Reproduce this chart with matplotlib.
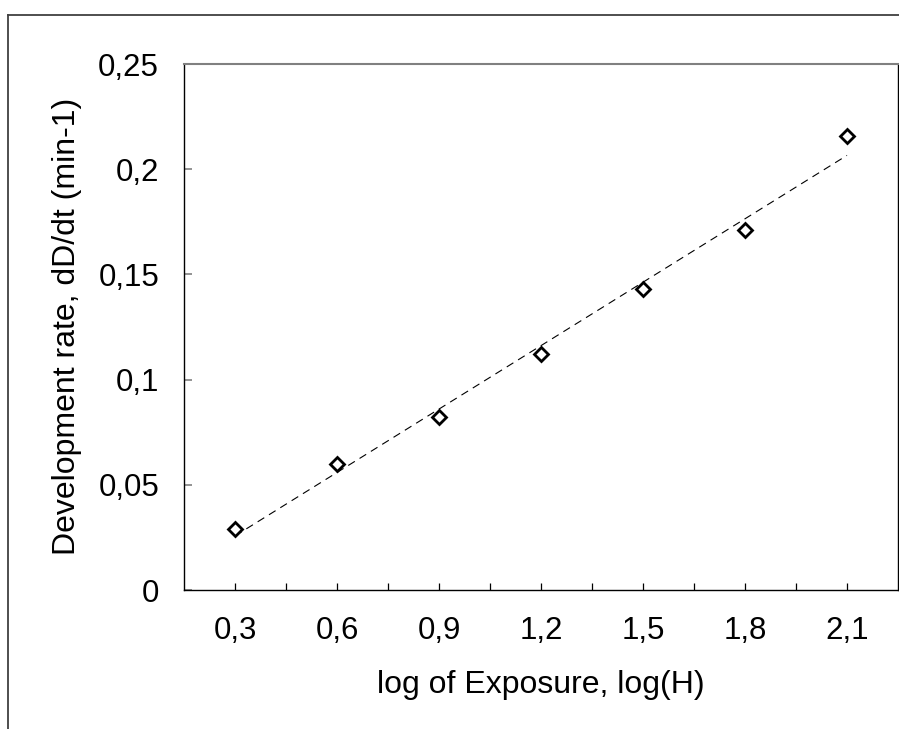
import matplotlib
matplotlib.use("Agg")
import matplotlib.pyplot as plt
import numpy as np
from matplotlib.lines import Line2D
from matplotlib.ticker import FixedLocator, FuncFormatter

plt.rcParams['font.family'] = ['Liberation Sans', 'DejaVu Sans']

# Data
log_exposure = [0.3, 0.6, 0.9, 1.2, 1.5, 1.8, 2.1]
dev_rate = [0.029, 0.060, 0.082, 0.112, 0.143, 0.171, 0.216]
x_major = [0.3, 0.6, 0.9, 1.2, 1.5, 1.8, 2.1]
x_minor = [0.45, 0.75, 1.05, 1.35, 1.65, 1.95]
y_ticks = [0, 0.05, 0.1, 0.15, 0.2, 0.25]

W, H = 899, 729
fig = plt.figure(figsize=(W / 100, H / 100), dpi=100)
fig.patch.set_facecolor('white')

# outer frame (top and left only visible)
fig.add_artist(Line2D([8 / W, 1.01], [1 - 15 / H, 1 - 15 / H], transform=fig.transFigure,
                      color='#404040', lw=1.3))
fig.add_artist(Line2D([8 / W, 8 / W], [-0.01, 1 - 15 / H], transform=fig.transFigure,
                      color='#404040', lw=1.3))

left, right, top, bottom = 184, 898, 64, 590
ax = fig.add_axes([left / W, 1 - bottom / H, (right - left) / W, (bottom - top) / H])

# trendline (linear fit)
coef = np.polyfit(log_exposure, dev_rate, 1)
xs = np.array([log_exposure[0], log_exposure[-1]])
ax.plot(xs, np.polyval(coef, xs), color='black', lw=0.8, dashes=(7, 5), zorder=2)

ax.plot(log_exposure, dev_rate, linestyle='none', marker='D', ms=7.4,
        mfc='white', mec='black', mew=2.0, zorder=3, clip_on=False)

ax.set_xlim(0.15, 2.25)
ax.set_ylim(0, 0.25)

def comma(v, pos=None):
    s = ('%.2f' % v).rstrip('0').rstrip('.')
    return s.replace('.', ',')

ax.xaxis.set_major_locator(FixedLocator(x_major))
ax.xaxis.set_minor_locator(FixedLocator(x_minor))
ax.xaxis.set_major_formatter(FuncFormatter(comma))
ax.yaxis.set_major_locator(FixedLocator(y_ticks))
ax.yaxis.set_major_formatter(FuncFormatter(comma))

ax.tick_params(axis='x', which='both', direction='in', length=5, width=0.9,
               color='black', labelsize=22.5, pad=19, top=False)
ax.tick_params(axis='y', which='major', direction='in', length=6, width=1.2,
               color='#808080', labelsize=22.5, pad=18, right=False)

for s in ['left', 'bottom', 'right']:
    ax.spines[s].set_color('black')
    ax.spines[s].set_linewidth(1.0)
ax.spines['top'].set_color('#808080')
ax.spines['top'].set_linewidth(1.5)

fig.text(541 / W, 1 - 685 / H, 'log of Exposure, log(H)', ha='center', va='center', fontsize=23)
fig.text(67 / W, 1 - 326 / H, 'Development rate, dD/dt (min-1)', ha='center', va='center',
         rotation=90, fontsize=23)

fig.savefig('out.png', dpi=100, facecolor='white')
